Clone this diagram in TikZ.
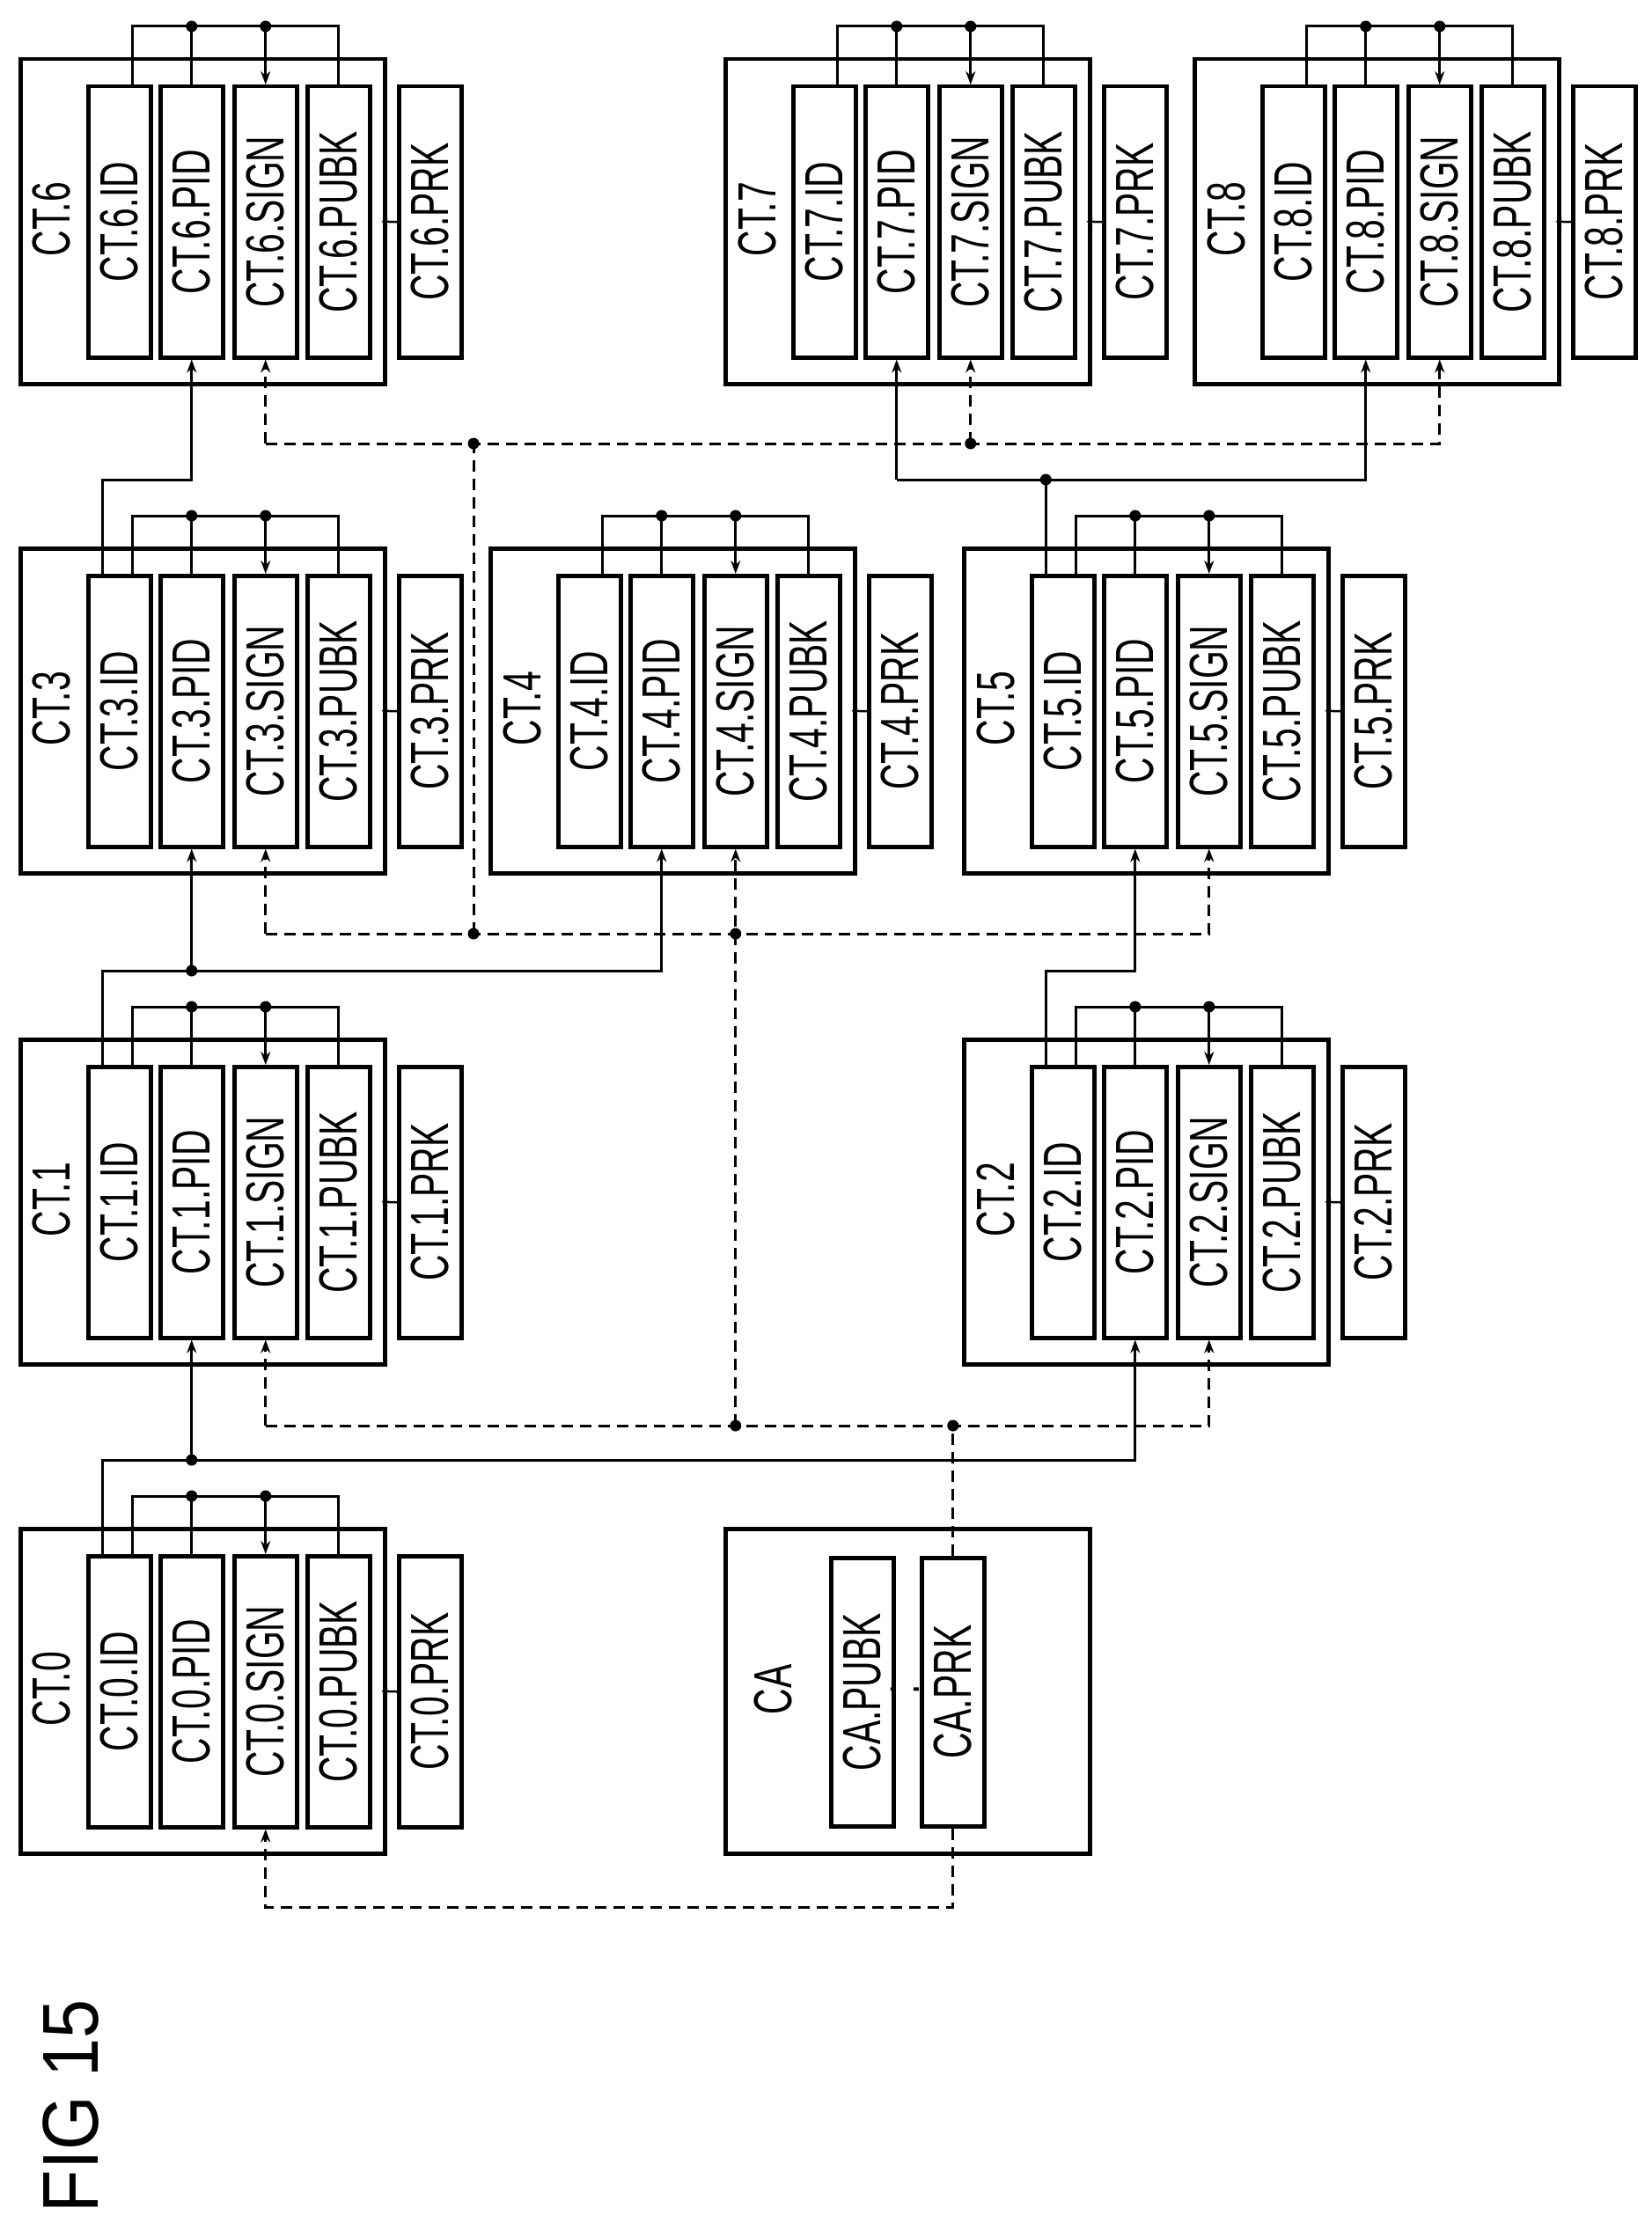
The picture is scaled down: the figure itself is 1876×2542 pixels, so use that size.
\documentclass[tikz,border=0pt]{standalone}
\usepackage{fontspec}
\setmainfont{Liberation Sans}
\newfontfamily\condf[FakeStretch=0.67]{Liberation Sans}
\newfontfamily\figf[FakeStretch=0.88]{Liberation Sans}
\usetikzlibrary{calc,arrows.meta}
\tikzset{
  ln/.style={line width=3pt},
  dsh/.style={line width=3pt,dash pattern=on 13pt off 8pt},
  tip/.style={-{Stealth[length=15pt,width=11pt]}},
  outerbox/.style={draw,line width=4.5pt,minimum width=414pt,minimum height=369pt,anchor=north west,inner sep=0pt},
  fieldbox/.style={draw,line width=4.5pt,minimum width=71pt,minimum height=308pt,anchor=north west,inner sep=0pt,font=\condf\fontsize{61}{61}\selectfont},
  lbl/.style={font=\condf\fontsize{61}{61}\selectfont,inner sep=0pt},
  dot/.style={circle,fill,inner sep=0pt,minimum size=13pt}
}
\newcommand\certbox[3]{%
  \node[outerbox] (c#1) at (#2,#3) {};
  \node[lbl] (c#1lab) at ({#2+38},{#3+184}) {\rotatebox{90}{CT.#1}};
  \node[fieldbox] (c#1id) at ({#2+77},{#3+31}) {\rotatebox{90}{CT.#1.ID}};
  \node[fieldbox] (c#1pid) at ({#2+159},{#3+31}) {\rotatebox{90}{CT.#1.PID}};
  \node[fieldbox] (c#1sig) at ({#2+243},{#3+31}) {\rotatebox{90}{CT.#1.SIGN}};
  \node[fieldbox] (c#1pub) at ({#2+326},{#3+31}) {\rotatebox{90}{CT.#1.PUBK}};
  \node[fieldbox] (c#1prk) at ({#2+430},{#3+31}) {\rotatebox{90}{CT.#1.PRK}};
  \coordinate (c#1bus) at ($(c#1.north)+(0,-35)$);
  \coordinate (c#1ch) at ($(c#1id.north)+(-19.5,0)$);
  \coordinate (k#1) at ($(c#1.north)+(0,-76)$);
  \draw[ln] ($(c#1id.north)+(14.5,0)$) |- (c#1pub.north |- c#1bus) -- (c#1pub.north);
  \draw[ln] (c#1pid.north) -- (c#1pid.north |- c#1bus);
  \draw[ln,tip] (c#1sig.north |- c#1bus) -- (c#1sig.north);
  \node[dot] (c#1d1) at (c#1pid.north |- c#1bus) {};
  \node[dot] (c#1d2) at (c#1sig.north |- c#1bus) {};
  \draw[line width=2.5pt,-{Stealth[length=7pt,width=8pt]}] (c#1prk.west) -- ($(c#1.east)+(-6,0)$);
}
\begin{document}
\begin{tikzpicture}[x=1pt,y=-1pt]
\useasboundingbox (0,0) rectangle (1876,2542);
\certbox{6}{21}{65}
\certbox{7}{822}{65}
\certbox{8}{1355}{65}
\certbox{3}{21}{621}
\certbox{4}{555}{621}
\certbox{5}{1093}{621}
\certbox{1}{21}{1179}
\certbox{2}{1093}{1179}
\certbox{0}{21}{1735}
% CA
\node[outerbox] (ca) at (822,1735) {};
\node[lbl] (calab) at (878,1920) {\rotatebox{90}{CA}};
\node[fieldbox,minimum height=305pt] (capub) at (942,1768) {\rotatebox{90}{CA.PUBK}};
\node[fieldbox,minimum height=305pt] (caprk) at (1045,1768) {\rotatebox{90}{CA.PRK}};
\node[lbl] (colon) at (1028,1920) {\rotatebox{90}{:}};
% chains (solid)
\draw[ln,tip] (c0ch) |- (k0 -| c2pid) -- (c2pid.south);
\draw[ln,tip] (c1pid.south |- k0) -- (c1pid.south);
\node[dot] at (c1pid.south |- k0) {};
\draw[ln,tip] (c1ch) |- (k1 -| c4pid) -- (c4pid.south);
\draw[ln,tip] (c3pid.south |- k1) -- (c3pid.south);
\node[dot] at (c3pid.south |- k1) {};
\draw[ln,tip] (c2ch) |- (k2 -| c5pid) -- (c5pid.south);
\draw[ln,tip] (c3ch) |- (k3 -| c6pid) -- (c6pid.south);
\draw[ln] (c5ch) -- (c5ch |- k5);
\draw[ln,tip] (c7pid.south |- k5) -- (c7pid.south);
\draw[ln,tip] (c7pid.south |- k5) -- (c8pid.south |- k5) -- (c8pid.south);
\node[dot] at (c5ch |- k5) {};
% dashed signing paths
\coordinate (dA) at (0,2167);
\coordinate (dB) at (0,1620);
\coordinate (dC) at (0,1061);
\coordinate (dD) at (0,504);
\coordinate (colX) at (538,0);
\draw[dsh,tip] (caprk.south) -- (caprk.south |- dA) -- (c0sig.south |- dA) -- (c0sig.south);
\draw[dsh] (caprk.north) -- (caprk.north |- dB);
\draw[dsh,tip] (c1sig.south |- dB) -- (c1sig.south);
\draw[dsh,tip] (c1sig.south |- dB) -- (c2sig.south |- dB) -- (c2sig.south);
\node[dot] at (caprk.north |- dB) {};
\node[dot] at (c4sig.south |- dB) {};
\draw[dsh,tip] (c4sig.south |- dB) -- (c4sig.south);
\draw[dsh,tip] (c3sig.south |- dC) -- (c3sig.south);
\draw[dsh,tip] (c3sig.south |- dC) -- (c5sig.south |- dC) -- (c5sig.south);
\node[dot] at (c4sig.south |- dC) {};
\node[dot] at (colX |- dC) {};
\draw[dsh] (colX |- dC) -- (colX |- dD);
\draw[dsh,tip] (c6sig.south |- dD) -- (c6sig.south);
\draw[dsh,tip] (c7sig.south |- dD) -- (c7sig.south);
\draw[dsh,tip] (c6sig.south |- dD) -- (c8sig.south |- dD) -- (c8sig.south);
\node[dot] at (colX |- dD) {};
\node[dot] at (c7sig.south |- dD) {};
% figure label
\node[font=\figf\fontsize{90}{90}\selectfont,inner sep=0pt] (fig) at (81,2393) {\rotatebox{90}{FIG 15}};
\end{tikzpicture}
\end{document}
